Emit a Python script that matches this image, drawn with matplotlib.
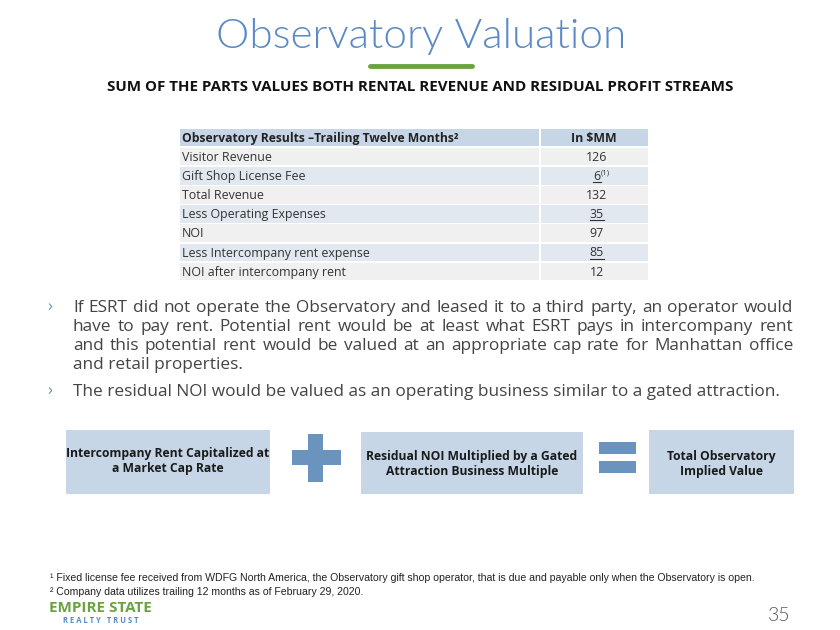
import matplotlib.pyplot as plt
from matplotlib.patches import Rectangle

# slide content
title = 'Observatory Valuation'
subtitle = 'SUM OF THE PARTS VALUES BOTH RENTAL REVENUE AND RESIDUAL PROFIT STREAMS'

header_labels = ['Observatory Results \u2013Trailing Twelve Months\u00b2', 'In $MM']
row_labels = ['Visitor Revenue', 'Gift Shop License Fee', 'Total Revenue',
              'Less Operating Expenses', 'NOI', 'Less Intercompany rent expense',
              'NOI after intercompany rent']
row_values = [126, 6, 132, 35, 97, 85, 12]
underlined = [False, True, False, True, False, True, False]
value_notes = ['', '(1)', '', '', '', '', '']

bullet1 = ['If ESRT did not operate the Observatory and leased it to a third party, an operator would',
           'have to pay rent. Potential rent would be at least what ESRT pays in intercompany rent',
           'and this potential rent would be valued at an appropriate cap rate for Manhattan office',
           'and retail properties.']
bullet2 = ['The residual NOI would be valued as an operating business similar to a gated attraction.']

box_texts = ['Intercompany Rent Capitalized at\na Market Cap Rate',
             'Residual NOI Multiplied by a Gated\nAttraction Business Multiple',
             'Total Observatory\nImplied Value']

footnotes = ['\u00b9 Fixed license fee received from WDFG North America, the Observatory gift shop operator, that is due and payable only when the Observatory is open.',
             '\u00b2 Company data utilizes trailing 12 months as of February 29, 2020.']
page_no = '35'

blue = '#5a8ac6'
green = '#6aa341'
box_col = '#c6d6e6'
sign_col = '#6a93be'
txt = '#333333'

body_font = 'Open Sans'

fig = plt.figure(figsize=(8.4, 6.3), dpi=100)
ax = fig.add_axes([0, 0, 1, 1])
ax.set_xlim(0, 840)
ax.set_ylim(630, 0)
ax.axis('off')
renderer = fig.canvas.get_renderer()


def fit(t, width):
    # scale the font so the text spans the width seen on the slide
    w = t.get_window_extent(renderer).width
    t.set_fontsize(t.get_fontsize() * width / w)
    return t


def justified(line, x0, x1, y, **kw):
    words = line.split(' ')
    texts = [ax.text(0, y, w, va='baseline', **kw) for w in words]
    widths = [t.get_window_extent(renderer).width for t in texts]
    gap = (x1 - x0 - sum(widths)) / (len(words) - 1)
    x = x0
    for t, w in zip(texts, widths):
        t.set_x(x)
        x += w + gap


# title block
fit(ax.text(216, 48, title, va='baseline', fontsize=28, color=blue,
            family='Lato', fontweight=300), 409)
ax.plot([370, 472], [66, 66], color=green, lw=3.5, solid_capstyle='round')
fit(ax.text(107, 91, subtitle, va='baseline', fontsize=10.5,
            fontweight='bold', family=body_font, color='#111111'), 633)

# table
tx0, tsplit, tx1 = 180, 539, 648
ax.add_patch(Rectangle((tx0, 129), tsplit - tx0, 17, fc='#c6d6e7', ec='none'))
ax.add_patch(Rectangle((tsplit + 2, 129), tx1 - tsplit - 2, 17, fc='#c6d6e7', ec='none'))
fit(ax.text(182, 142, header_labels[0], va='baseline', fontsize=8.8, fontweight='bold',
            family=body_font, color='#222222'), 278)
ax.text(594, 142, header_labels[1], ha='center', va='baseline', fontsize=8.8,
        fontweight='bold', family=body_font, color='#222222')

for i, (lab, val) in enumerate(zip(row_labels, row_values)):
    top = 148 + i * 19.1
    fc = '#f1f0f0' if i % 2 == 0 else '#e2e8f0'
    ax.add_patch(Rectangle((tx0, top), tsplit - tx0, 17.4, fc=fc, ec='none'))
    ax.add_patch(Rectangle((tsplit + 2, top), tx1 - tsplit - 2, 17.4, fc=fc, ec='none'))
    base = top + 13
    ax.text(182, base, lab, va='baseline', fontsize=8.9, family=body_font, color=txt)
    t = ax.text(597, base, str(val), ha='center', va='baseline', fontsize=8.9,
                family=body_font, color=txt)
    bb = t.get_window_extent(renderer)
    if underlined[i]:
        ax.plot([bb.x0, bb.x1], [base + 2, base + 2], color=txt, lw=0.8)
    if value_notes[i]:
        ax.text(bb.x1 + 0.5, base - 6, value_notes[i], va='baseline', fontsize=5.5,
                family=body_font, color=txt)

# bullets
t2 = fit(ax.text(73, 396, bullet2[0], va='baseline', fontsize=12, family=body_font,
                 color='#444444'), 704)
bl_kw = dict(fontsize=t2.get_fontsize(), family=body_font, color='#444444')
ys = [312, 331, 350, 369]
for k, line in enumerate(bullet1):
    if k < len(bullet1) - 1:
        justified(line, 73, 793, ys[k], **bl_kw)
    else:
        ax.text(73, ys[k], line, va='baseline', **bl_kw)
for y in (311, 395):
    ax.text(47, y, '\u203a', va='baseline', fontsize=12, color=sign_col, family=body_font)

# equation boxes
boxes = [(66, 430, 204, 64), (361, 432, 222, 62), (649, 430, 145, 64)]
text_mid = [461, 464, 464]
for (bx, by, bw, bh), s, ym in zip(boxes, box_texts, text_mid):
    ax.add_patch(Rectangle((bx, by), bw, bh, fc=box_col, ec='none'))
    ax.text(bx + bw / 2, ym, s, ha='center', va='center', fontsize=8.75,
            fontweight='bold', family=body_font, color='#1a1a1a', linespacing=1.2)

# plus and equals signs
ax.add_patch(Rectangle((308, 434), 15, 48, fc=sign_col, ec='none'))
ax.add_patch(Rectangle((292, 450), 49, 15, fc=sign_col, ec='none'))
ax.add_patch(Rectangle((599, 442), 37, 12, fc=sign_col, ec='none'))
ax.add_patch(Rectangle((599, 461), 37, 12, fc=sign_col, ec='none'))

# footnotes
f0 = fit(ax.text(50, 581, footnotes[0], va='baseline', fontsize=7.5,
                 family='Liberation Sans', color='#222222'), 703)
ax.text(50, 595, footnotes[1], va='baseline', fontsize=f0.get_fontsize(),
        family='Liberation Sans', color='#222222')

# logo and page number
fit(ax.text(49, 612, 'EMPIRE STATE', va='baseline', fontsize=9,
            fontweight='bold', family=body_font, color=green), 103)
fit(ax.text(63, 623, 'R E A L T Y   T R U S T', va='baseline', fontsize=5,
            fontweight='bold', family=body_font, color=blue), 77)
ax.text(790, 621, page_no, ha='right', va='baseline', fontsize=14, family='Lato',
        fontweight=300, color='#555555')

fig.savefig('out.png', dpi=100)
